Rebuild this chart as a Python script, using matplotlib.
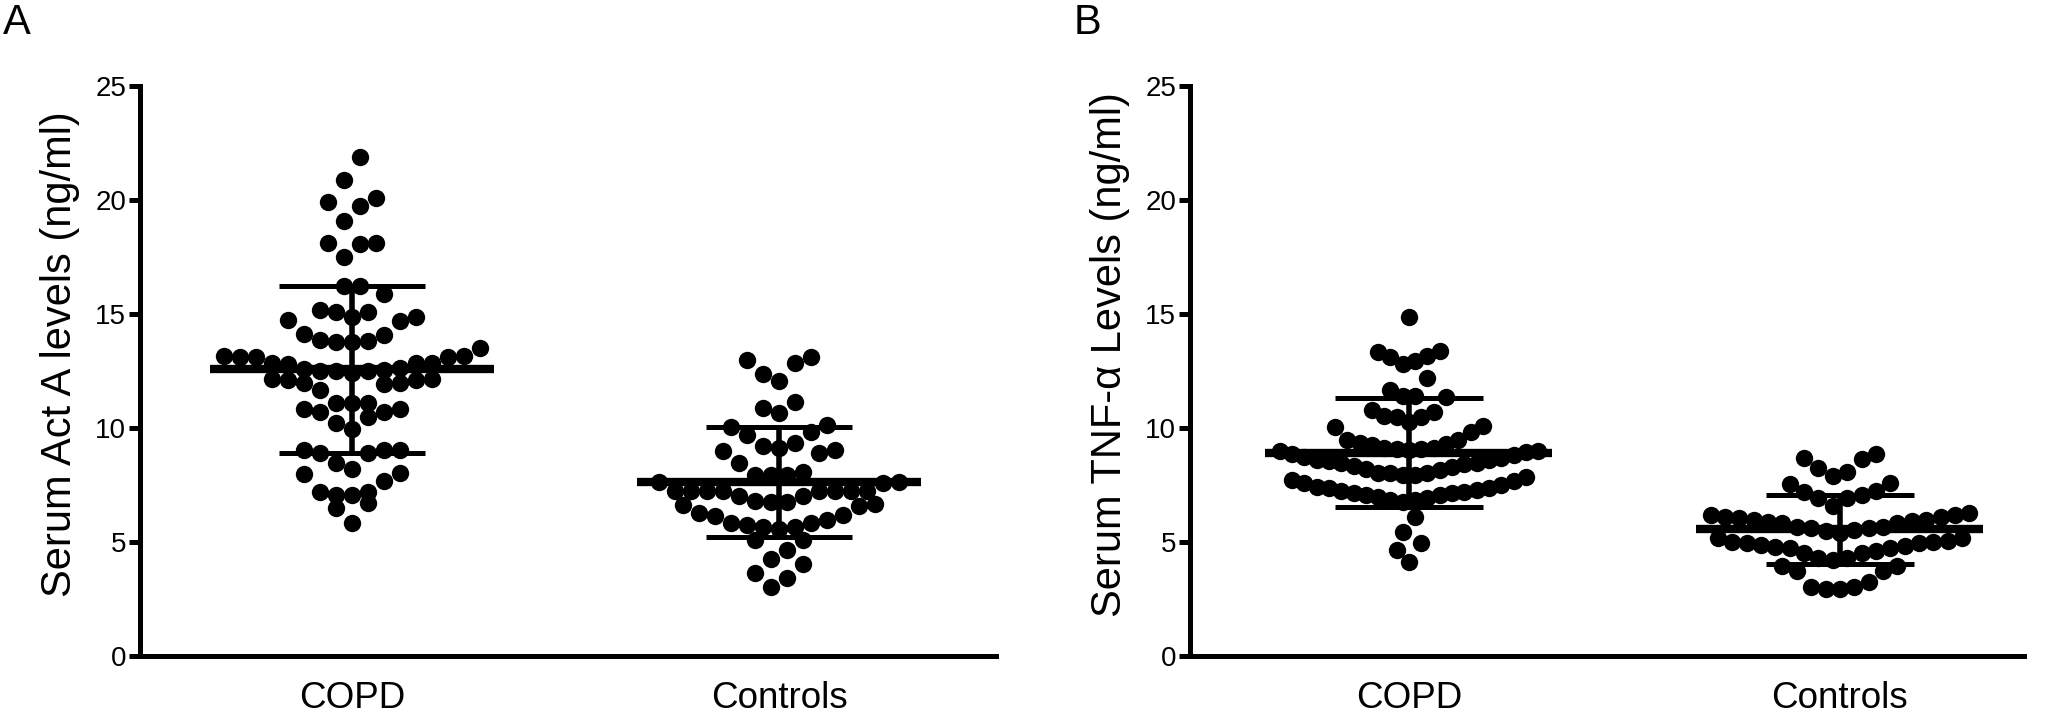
import numpy as np
import matplotlib
matplotlib.use("Agg")
import matplotlib.pyplot as plt

plt.rcParams['font.family'] = ['Liberation Sans', 'DejaVu Sans']

groups = ['COPD', 'Controls']

# Serum Act A levels (ng/ml)
act_a_copd = [21.89, 20.89, 20.09, 19.91, 19.75, 19.11, 18.14, 18.11, 18.08, 17.53,
              16.25, 16.24, 15.89, 15.19, 15.11, 15.09, 14.89, 14.87, 14.75, 14.72,
              14.14, 14.09, 13.87, 13.84, 13.79, 13.78, 13.51, 13.16, 13.14, 13.12,
              13.15, 13.13, 12.86, 12.85, 12.84, 12.85, 12.63, 12.53, 12.52, 12.41,
              12.54, 12.53, 12.62, 12.15, 12.16, 12.14, 12.12, 12.0, 11.97, 11.93,
              11.68, 11.12, 11.13, 11.11, 10.85, 10.86, 10.73, 10.72, 10.51, 10.22,
              9.96, 9.05, 9.06, 9.04, 8.93, 8.92, 8.49, 8.2, 8.05, 8.0,
              7.7, 7.22, 7.19, 7.07, 7.08, 6.71, 6.49, 5.83]
act_a_controls = [13.14, 13.0, 12.85, 12.38, 12.09, 11.17, 10.9, 10.66, 10.14, 10.07,
                  9.85, 9.71, 9.34, 9.24, 9.12, 9.02, 9.03, 8.93, 8.49, 8.07,
                  7.95, 7.96, 7.94, 7.63, 7.64, 7.62, 7.25, 7.26, 7.24, 7.25,
                  7.27, 7.23, 7.25, 7.26, 7.03, 7.04, 6.78, 6.79, 6.77, 6.67,
                  6.61, 6.62, 6.27, 6.2, 6.15, 5.98, 5.85, 5.86, 5.76, 5.68,
                  5.69, 5.57, 5.1, 5.11, 4.66, 4.27, 4.04, 3.64, 3.45, 3.05]
# mean and SD bars as drawn in the figure
act_a_mean = [12.59, 7.63]
act_a_sd = [3.66, 2.41]

# Serum TNF-alpha levels (ng/ml)
tnf_copd = [14.9, 13.4, 13.36, 13.17, 13.14, 12.97, 12.82, 12.19, 11.68, 11.42,
            11.43, 11.36, 10.8, 10.73, 10.51, 10.52, 10.5, 10.29, 10.1, 10.07,
            9.85, 9.49, 9.48, 9.34, 9.3, 9.27,
            9.12, 9.08, 8.98, 8.83, 8.68, 8.61, 8.49, 8.36, 8.2, 8.03,
            8.04, 8.17, 8.31, 8.46, 8.62, 8.76, 8.88, 8.99, 9.02, 9.05,
            9.1, 9.13,
            7.95, 8.02, 7.59, 7.37, 7.22, 7.15, 7.07, 7.0, 6.86, 6.78,
            6.87, 6.93, 7.08, 7.16, 7.23, 7.29, 7.38, 7.51, 7.44, 7.7,
            7.85, 7.96,
            8.45, 8.55, 7.75,
            6.12, 5.47, 4.96, 4.66, 4.15]
tnf_controls = [8.86, 8.68, 8.64, 8.25, 8.07, 7.91, 7.59, 7.56, 7.22, 7.23,
                7.07, 6.93, 6.94, 6.61,
                6.27, 6.2, 6.12, 5.98, 5.91, 5.83, 5.68, 5.61, 5.54, 5.39,
                5.5, 5.62, 5.69, 5.84, 5.92, 5.99, 6.05, 6.13, 6.21,
                5.2, 5.18,
                5.03, 4.96, 4.88, 4.84, 4.74, 4.63, 4.52, 4.3, 4.22, 4.31,
                4.53, 4.75, 4.81, 4.97, 5.0, 5.04,
                3.97, 3.95, 3.75, 3.73, 3.25, 3.05, 3.03, 2.94, 2.95]
tnf_mean = [8.93, 5.57]
tnf_sd = [2.39, 1.52]


def row_layout(values, tol=1.1, max_step=0.0375, max_width=0.6):
    # Prism-like column scatter: values grouped in rows, lowest in the middle
    vals = np.sort(np.asarray(values, dtype=float))
    rows = []
    for v in vals:
        if rows and v - rows[-1][0] < tol:
            rows[-1].append(v)
        else:
            rows.append([v])
    nmax = max(len(r) for r in rows)
    step = min(max_step, max_width / max(nmax - 1, 1))
    xs, ys = [], []
    for row in rows:
        n = len(row)
        slots = (np.arange(n) - (n - 1) / 2) * step
        order = np.argsort(np.abs(slots), kind='stable')
        for v, k in zip(row, order):
            xs.append(slots[k])
            ys.append(v)
    return np.array(xs), np.array(ys)


def draw_panel(ax, data, means, sds, ylabel, xlim):
    for i, vals in enumerate(data):
        dx, y = row_layout(vals)
        ax.plot(i + dx, y, 'o', color='black', ms=12.5, mew=0, zorder=3, clip_on=False)
        m, sd = means[i], sds[i]
        ax.hlines(m, i - 0.333, i + 0.333, color='black', lw=6, zorder=4)
        ax.hlines([m - sd, m + sd], i - 0.171, i + 0.171, color='black', lw=3.6, zorder=4)
        ax.vlines(i, m - sd, m + sd, color='black', lw=4, zorder=4)
    ax.set_xlim(*xlim)
    ax.set_ylim(0, 25)
    ax.set_yticks([0, 5, 10, 15, 20, 25])
    ax.set_xticks([0, 1])
    ax.set_xticklabels(groups)
    for s in ['top', 'right']:
        ax.spines[s].set_visible(False)
    for s in ['left', 'bottom']:
        ax.spines[s].set_linewidth(3.6)
    ax.tick_params(axis='y', direction='out', length=8, width=3.6, labelsize=20, pad=2)
    ax.tick_params(axis='x', length=0, labelsize=26.5, pad=18)
    ax.set_ylabel(ylabel, fontsize=30, labelpad=11)
    ax.yaxis.label.set_y(0.53)


fig = plt.figure(figsize=(20.54, 7.18), dpi=100)
bottom = (718 - 656.3) / 718
height = 570 / 718
ax_a = fig.add_axes([140 / 2054, bottom, 856 / 2054, height])
ax_b = fig.add_axes([1190 / 2054, bottom, 834 / 2054, height])

draw_panel(ax_a, [act_a_copd, act_a_controls], act_a_mean, act_a_sd,
           'Serum Act A levels (ng/ml)', (-0.496, 1.508))
draw_panel(ax_b, [tnf_copd, tnf_controls], tnf_mean, tnf_sd,
           'Serum TNF-α Levels (ng/ml)', (-0.508, 1.427))

fig.text(3 / 2054, 1 - 3 / 718, 'A', fontsize=30, va='top', ha='left')
fig.text(1074 / 2054, 1 - 3 / 718, 'B', fontsize=30, va='top', ha='left')

fig.savefig('out.png', dpi=100)
